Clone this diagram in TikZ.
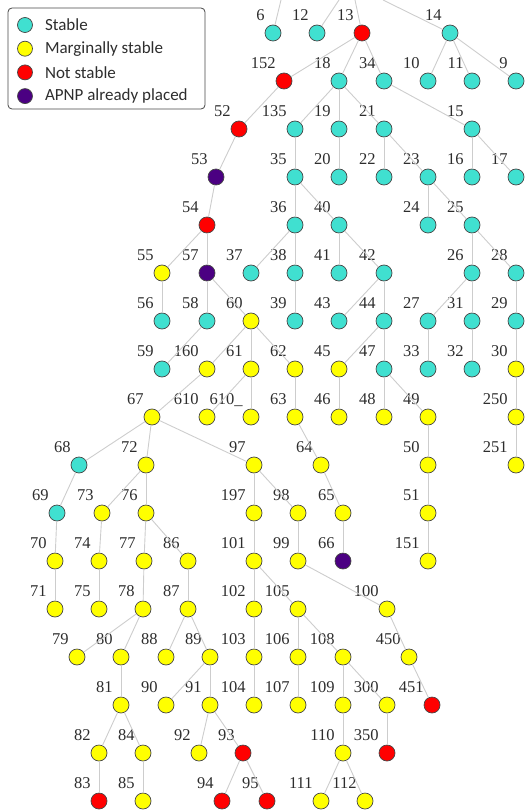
\documentclass[tikz,border=0pt]{standalone}
\usepackage{fontspec}
\setmainfont{Liberation Serif}
\newfontfamily\legendfont{Carlito}
\usetikzlibrary{positioning}

\definecolor{stablecol}{RGB}{64,224,208}
\definecolor{margcol}{RGB}{255,255,0}
\definecolor{notcol}{RGB}{255,0,0}
\definecolor{apnpcol}{RGB}{75,0,130}
\definecolor{rimcol}{RGB}{70,70,70}
\definecolor{linkcol}{RGB}{205,205,205}
\definecolor{inkcol}{RGB}{45,45,45}

\tikzset{
  tn/.style={circle, draw=rimcol, line width=0.7pt, minimum size=16pt, inner sep=0pt},
  st/.style={tn, fill=stablecol},
  ms/.style={tn, fill=margcol},
  ns/.style={tn, fill=notcol},
  ap/.style={tn, fill=apnpcol},
  lbl/.style={anchor=base east, inner sep=0pt, label distance=0pt, xshift=-2.3pt, yshift=7pt, text=inkcol, font=\fontsize{16.5}{18}\selectfont},
  link/.style={draw=linkcol, line width=0.9pt},
  lgc/.style={circle, draw=rimcol, line width=0.7pt, minimum size=15pt, inner sep=0pt},
  lgt/.style={font=\legendfont\fontsize{17}{19}\selectfont, text=inkcol, inner sep=1pt}
}

\begin{document}
\begin{tikzpicture}[x=1pt, y=-1pt]
\useasboundingbox (0,0) rectangle (527,810);

% legend
\draw[rimcol, line width=0.8pt, rounded corners=4pt] (8,8) rectangle (205,109);
\node[lgc, fill=stablecol] (lg1) at (25,25) {};
\node[lgc, fill=margcol, below=8pt of lg1] (lg2) {};
\node[lgc, fill=notcol, below=8pt of lg2] (lg3) {};
\node[lgc, fill=apnpcol, below=8pt of lg3] (lg4) {};
\node[lgt, right=11pt of lg1] (lt1) {Stable};
\node[lgt, right=11pt of lg2] (lt2) {Marginally stable};
\node[lgt, right=11pt of lg3] (lt3) {Not stable};
\node[lgt, right=11pt of lg4] (lt4) {APNP already placed};

% free ends above the top
\coordinate (up6) at (281,0);
\coordinate (up12) at (339,0);
\coordinate (up13) at (355,0);
\coordinate (up14) at (383,0);

% row 1
\node[st, label={[lbl]135:6}] (n6) at (273,33) {};
\node[st, label={[lbl]135:12}] (n12) at (317,33) {};
\node[ns, label={[lbl]135:13}] (n13) at (362,33) {};
\node[st, label={[lbl]135:14}] (n14) at (450,33) {};
% row 2
\node[ns, label={[lbl]135:152}] (n152) at (284,81) {};
\node[st, label={[lbl]135:18}] (n18) at (339,81) {};
\node[st, label={[lbl]135:34}] (n34) at (384,81) {};
\node[st, label={[lbl]135:10}] (n10) at (428,81) {};
\node[st, label={[lbl]135:11}] (n11) at (472,81) {};
\node[st, label={[lbl]135:9}] (n9) at (516,81) {};
% row 3
\node[ns, label={[lbl]135:52}] (n52) at (239,129) {};
\node[st, label={[lbl]135:135}] (n135) at (295,129) {};
\node[st, label={[lbl]135:19}] (n19) at (339,129) {};
\node[st, label={[lbl]135:21}] (n21) at (384,129) {};
\node[st, label={[lbl]135:15}] (n15) at (472,129) {};
% row 4
\node[ap, label={[lbl]135:53}] (n53) at (216,177) {};
\node[st, label={[lbl]135:35}] (n35) at (295,177) {};
\node[st, label={[lbl]135:20}] (n20) at (339,177) {};
\node[st, label={[lbl]135:22}] (n22) at (384,177) {};
\node[st, label={[lbl]135:23}] (n23) at (428,177) {};
\node[st, label={[lbl]135:16}] (n16) at (472,177) {};
\node[st, label={[lbl]135:17}] (n17) at (516,177) {};
% row 5
\node[ns, label={[lbl]135:54}] (n54) at (207,225) {};
\node[st, label={[lbl]135:36}] (n36) at (295,225) {};
\node[st, label={[lbl]135:40}] (n40) at (339,225) {};
\node[st, label={[lbl]135:24}] (n24) at (428,225) {};
\node[st, label={[lbl]135:25}] (n25) at (472,225) {};
% row 6
\node[ms, label={[lbl]135:55}] (n55) at (162,273) {};
\node[ap, label={[lbl]135:57}] (n57) at (207,273) {};
\node[st, label={[lbl]135:37}] (n37) at (251,273) {};
\node[st, label={[lbl]135:38}] (n38) at (295,273) {};
\node[st, label={[lbl]135:41}] (n41) at (339,273) {};
\node[st, label={[lbl]135:42}] (n42) at (384,273) {};
\node[st, label={[lbl]135:26}] (n26) at (472,273) {};
\node[st, label={[lbl]135:28}] (n28) at (516,273) {};
% row 7
\node[st, label={[lbl]135:56}] (n56) at (162,321) {};
\node[st, label={[lbl]135:58}] (n58) at (207,321) {};
\node[ms, label={[lbl]135:60}] (n60) at (251,321) {};
\node[st, label={[lbl]135:39}] (n39) at (295,321) {};
\node[st, label={[lbl]135:43}] (n43) at (339,321) {};
\node[st, label={[lbl]135:44}] (n44) at (384,321) {};
\node[st, label={[lbl]135:27}] (n27) at (428,321) {};
\node[st, label={[lbl]135:31}] (n31) at (472,321) {};
\node[st, label={[lbl]135:29}] (n29) at (516,321) {};
% row 8
\node[st, label={[lbl]135:59}] (n59) at (162,369) {};
\node[ms, label={[lbl]135:160}] (n160) at (207,369) {};
\node[ms, label={[lbl]135:61}] (n61) at (251,369) {};
\node[ms, label={[lbl]135:62}] (n62) at (295,369) {};
\node[ms, label={[lbl]135:45}] (n45) at (339,369) {};
\node[st, label={[lbl]135:47}] (n47) at (384,369) {};
\node[st, label={[lbl]135:33}] (n33) at (428,369) {};
\node[st, label={[lbl]135:32}] (n32) at (472,369) {};
\node[ms, label={[lbl]135:30}] (n30) at (516,369) {};
% row 9
\node[ms, label={[lbl]135:67}] (n67) at (152,417) {};
\node[ms, label={[lbl]135:610}] (n610) at (207,417) {};
\node[ms, label={[lbl]135:610\_}] (n610b) at (251,417) {};
\node[ms, label={[lbl]135:63}] (n63) at (295,417) {};
\node[ms, label={[lbl]135:46}] (n46) at (339,417) {};
\node[ms, label={[lbl]135:48}] (n48) at (384,417) {};
\node[ms, label={[lbl]135:49}] (n49) at (428,417) {};
\node[ms, label={[lbl]135:250}] (n250) at (516,417) {};
% row 10
\node[st, label={[lbl]135:68}] (n68) at (79,465) {};
\node[ms, label={[lbl]135:72}] (n72) at (146,465) {};
\node[ms, label={[lbl]135:97}] (n97) at (254,465) {};
\node[ms, label={[lbl]135:64}] (n64) at (321,465) {};
\node[ms, label={[lbl]135:50}] (n50) at (428,465) {};
\node[ms, label={[lbl]135:251}] (n251) at (516,465) {};
% row 11
\node[st, label={[lbl]135:69}] (n69) at (57,513) {};
\node[ms, label={[lbl]135:73}] (n73) at (102,513) {};
\node[ms, label={[lbl]135:76}] (n76) at (146,513) {};
\node[ms, label={[lbl]135:197}] (n197) at (254,513) {};
\node[ms, label={[lbl]135:98}] (n98) at (298,513) {};
\node[ms, label={[lbl]135:65}] (n65) at (343,513) {};
\node[ms, label={[lbl]135:51}] (n51) at (428,513) {};
% row 12
\node[ms, label={[lbl]135:70}] (n70) at (55,561) {};
\node[ms, label={[lbl]135:74}] (n74) at (99,561) {};
\node[ms, label={[lbl]135:77}] (n77) at (144,561) {};
\node[ms, label={[lbl]135:86}] (n86) at (188,561) {};
\node[ms, label={[lbl]135:101}] (n101) at (254,561) {};
\node[ms, label={[lbl]135:99}] (n99) at (298,561) {};
\node[ap, label={[lbl]135:66}] (n66) at (343,561) {};
\node[ms, label={[lbl]135:151}] (n151) at (428,561) {};
% row 13
\node[ms, label={[lbl]135:71}] (n71) at (55,609) {};
\node[ms, label={[lbl]135:75}] (n75) at (99,609) {};
\node[ms, label={[lbl]135:78}] (n78) at (143,609) {};
\node[ms, label={[lbl]135:87}] (n87) at (188,609) {};
\node[ms, label={[lbl]135:102}] (n102) at (254,609) {};
\node[ms, label={[lbl]135:105}] (n105) at (298,609) {};
\node[ms, label={[lbl]135:100}] (n100) at (387,609) {};
% row 14
\node[ms, label={[lbl]135:79}] (n79) at (77,657) {};
\node[ms, label={[lbl]135:80}] (n80) at (121,657) {};
\node[ms, label={[lbl]135:88}] (n88) at (166,657) {};
\node[ms, label={[lbl]135:89}] (n89) at (210,657) {};
\node[ms, label={[lbl]135:103}] (n103) at (254,657) {};
\node[ms, label={[lbl]135:106}] (n106) at (298,657) {};
\node[ms, label={[lbl]135:108}] (n108) at (343,657) {};
\node[ms, label={[lbl]135:450}] (n450) at (409,657) {};
% row 15
\node[ms, label={[lbl]135:81}] (n81) at (121,705) {};
\node[ms, label={[lbl]135:90}] (n90) at (166,705) {};
\node[ms, label={[lbl]135:91}] (n91) at (210,705) {};
\node[ms, label={[lbl]135:104}] (n104) at (254,705) {};
\node[ms, label={[lbl]135:107}] (n107) at (298,705) {};
\node[ms, label={[lbl]135:109}] (n109) at (343,705) {};
\node[ms, label={[lbl]135:300}] (n300) at (387,705) {};
\node[ns, label={[lbl]135:451}] (n451) at (432,705) {};
% row 16
\node[ms, label={[lbl]135:82}] (n82) at (99,753) {};
\node[ms, label={[lbl]135:84}] (n84) at (143,753) {};
\node[ms, label={[lbl]135:92}] (n92) at (199,753) {};
\node[ns, label={[lbl]135:93}] (n93) at (243,753) {};
\node[ms, label={[lbl]135:110}] (n110) at (343,753) {};
\node[ns, label={[lbl]135:350}] (n350) at (387,753) {};
% row 17
\node[ns, label={[lbl]135:83}] (n83) at (99,801) {};
\node[ms, label={[lbl]135:85}] (n85) at (143,801) {};
\node[ns, label={[lbl]135:94}] (n94) at (222,801) {};
\node[ns, label={[lbl]135:95}] (n95) at (267,801) {};
\node[ms, label={[lbl]135:111}] (n111) at (321,801) {};
\node[ms, label={[lbl]135:112}] (n112) at (365,801) {};

% links
\foreach \a in {6,12,13,14}
  \draw[link] (up\a) -- (n\a);
\foreach \a/\b in {13/152, 13/18, 13/34, 14/10, 14/11, 14/9,
    152/52, 18/135, 18/19, 18/21, 34/15,
    52/53, 135/35, 19/20, 21/22, 21/23, 15/16, 15/17,
    53/54, 35/36, 35/40, 23/24, 23/25,
    54/55, 54/57, 36/37, 36/38, 40/41, 40/42, 25/26, 25/28,
    55/56, 57/58, 57/60, 38/39, 42/43, 42/44, 26/27, 26/31, 28/29,
    58/59, 60/160, 60/61, 60/62, 44/45, 44/47, 27/33, 31/32, 29/30,
    160/67, 61/610, 61/610b, 62/63, 45/46, 47/48, 47/49, 30/250,
    67/68, 67/72, 67/97, 63/64, 49/50, 250/251,
    68/69, 72/73, 72/76, 97/197, 97/98, 64/65, 50/51,
    69/70, 73/74, 76/77, 76/86, 197/101, 98/99, 65/66, 51/151,
    70/71, 74/75, 77/78, 86/87, 101/102, 101/105, 99/100,
    78/79, 78/80, 87/88, 87/89, 102/103, 105/106, 105/108, 100/450,
    80/81, 89/90, 89/91, 103/104, 106/107, 108/109, 108/300, 450/451,
    81/82, 81/84, 91/92, 91/93, 109/110, 300/350,
    82/83, 84/85, 93/94, 93/95, 110/111, 110/112}
  \draw[link] (n\a) -- (n\b);
\end{tikzpicture}
\end{document}
